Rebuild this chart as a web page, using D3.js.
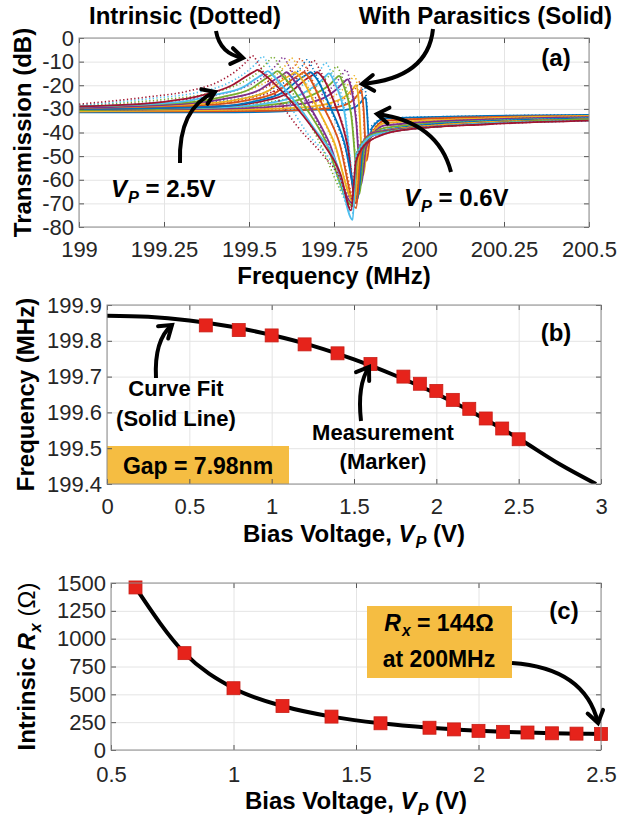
<!DOCTYPE html>
<html>
<head>
<meta charset="utf-8">
<script src="https://cdn.jsdelivr.net/npm/d3@7"></script>
<style>
  body { margin: 0; background: #fff; }
  svg { display: block; font-family: "Liberation Sans", Arial, sans-serif; }
</style>
</head>
<body>
<script>
// ---- data ----
// bias voltages used in all three panels
var biasV = [0.6, 0.8, 1.0, 1.2, 1.4, 1.6, 1.8, 1.9, 2.0, 2.1, 2.2, 2.3, 2.4, 2.5];

// (a) transmission traces with parasitics (solid), [MHz, dB], one per bias voltage
var solidTraces = [
  [[199,-31.5],[199.4,-31.5],[199.6,-31],[199.7,-30.3],[199.78,-30.5],[199.815,-29],[199.83,-27],[199.843,-25],[199.848,-33],[199.853,-44],[199.862,-38],[199.9,-34],[200.2,-33],[200.5,-32.5]],
  [[199,-31],[199.4,-31],[199.65,-30.5],[199.75,-29.5],[199.8,-27],[199.82,-24],[199.83,-22],[199.837,-30],[199.846,-52],[199.857,-42],[199.9,-35],[200.2,-33.5],[200.5,-33]],
  [[199,-31],[199.4,-30.5],[199.65,-29.5],[199.74,-27.5],[199.785,-24.5],[199.803,-22],[199.815,-20],[199.823,-27],[199.836,-58],[199.85,-44],[199.9,-36],[200.2,-34],[200.5,-33]],
  [[199,-30.5],[199.4,-30],[199.62,-28.5],[199.71,-26],[199.755,-22],[199.777,-19],[199.79,-17.5],[199.8,-21],[199.815,-35],[199.83,-62],[199.845,-46],[199.9,-37],[200.2,-34.5],[200.5,-33.5]],
  [[199,-30.5],[199.4,-29.5],[199.58,-28],[199.68,-24.5],[199.735,-20],[199.753,-17.5],[199.765,-16],[199.778,-20],[199.8,-32],[199.825,-66],[199.84,-46],[199.9,-38],[200.2,-35],[200.5,-34]],
  [[199,-30],[199.4,-29.5],[199.56,-27.5],[199.65,-24],[199.705,-19],[199.723,-16.5],[199.735,-15],[199.752,-19],[199.78,-31],[199.815,-68],[199.828,-48],[199.87,-40],[200.1,-36],[200.5,-34]],
  [[199,-30],[199.4,-29],[199.53,-27],[199.62,-23],[199.672,-17],[199.69,-15.5],[199.70,-14.5],[199.718,-17],[199.75,-27],[199.79,-46],[199.815,-70],[199.83,-48],[199.87,-41],[200.1,-37],[200.5,-34.5]],
  [[199,-30],[199.4,-29],[199.51,-27],[199.6,-23],[199.652,-17],[199.67,-15.5],[199.68,-14.5],[199.698,-17],[199.735,-28],[199.78,-44],[199.82,-68],[199.835,-47],[199.87,-40],[200.1,-36],[200.5,-34]],
  [[199,-29.5],[199.35,-28.5],[199.49,-26.5],[199.58,-23],[199.632,-17],[199.65,-15.5],[199.66,-14.5],[199.678,-17],[199.715,-28],[199.765,-44],[199.815,-72],[199.83,-48],[199.87,-40],[200.1,-36.5],[200.5,-34.5]],
  [[199,-29.5],[199.35,-28],[199.47,-26],[199.555,-22.5],[199.607,-17],[199.625,-15.5],[199.635,-14.5],[199.653,-17],[199.695,-28],[199.75,-44],[199.81,-70],[199.825,-48],[199.87,-40],[200.1,-36.5],[200.5,-34.5]],
  [[199,-29.5],[199.3,-28],[199.44,-25.5],[199.53,-22],[199.582,-17],[199.6,-15.5],[199.61,-14.5],[199.628,-17],[199.675,-28],[199.735,-44],[199.805,-70],[199.82,-48],[199.87,-40],[200.1,-37],[200.5,-34.5]],
  [[199,-29],[199.3,-27.5],[199.42,-25],[199.505,-21.5],[199.556,-16.5],[199.573,-15],[199.583,-14],[199.602,-16.5],[199.655,-27],[199.72,-42],[199.805,-71],[199.82,-48],[199.87,-40.5],[200.1,-37],[200.5,-34.5]],
  [[199,-29],[199.3,-27],[199.4,-24],[199.48,-21],[199.528,-16.5],[199.545,-15],[199.555,-14],[199.574,-16.5],[199.63,-26],[199.69,-38],[199.76,-54],[199.805,-77],[199.815,-50],[199.87,-41],[200.1,-37],[200.5,-35]],
  [[199,-29],[199.25,-27],[199.37,-24],[199.45,-20],[199.5,-15.5],[199.516,-14.2],[199.525,-13.5],[199.545,-15.5],[199.6,-23],[199.66,-33],[199.72,-45],[199.77,-58],[199.80,-73],[199.815,-52],[199.85,-44],[199.95,-39],[200.2,-36.5],[200.5,-35]]
];

// (a) intrinsic traces (dotted), [MHz, dB]
var dottedTraces = [
  [[199,-31],[199.4,-31],[199.65,-30],[199.75,-28.5],[199.8,-26.5],[199.825,-24],[199.84,-21],[199.846,-27],[199.852,-40],[199.862,-37],[199.9,-34],[200.2,-33],[200.5,-32.5]],
  [[199,-31],[199.4,-30.5],[199.65,-29.5],[199.75,-27.5],[199.8,-23.5],[199.815,-21],[199.826,-18.5],[199.834,-26],[199.845,-50],[199.855,-41],[199.9,-35],[200.2,-33.5],[200.5,-33]],
  [[199,-30.5],[199.4,-30],[199.6,-29],[199.72,-26.5],[199.77,-22.5],[199.795,-19],[199.81,-16],[199.82,-22],[199.836,-56],[199.85,-43],[199.9,-36],[200.2,-34],[200.5,-33]],
  [[199,-30.5],[199.4,-29.5],[199.6,-28],[199.7,-25],[199.75,-20],[199.772,-16],[199.785,-13.5],[199.797,-18],[199.815,-33],[199.83,-60],[199.845,-45],[199.9,-37],[200.2,-34.5],[200.5,-33.5]],
  [[199,-30],[199.4,-29],[199.56,-27],[199.66,-23.5],[199.72,-18],[199.745,-14.5],[199.757,-12],[199.772,-16],[199.8,-31],[199.825,-64],[199.84,-45],[199.9,-38],[200.2,-35],[200.5,-34]],
  [[199,-30],[199.35,-28.5],[199.52,-26],[199.62,-22.5],[199.685,-17],[199.712,-13],[199.725,-10.5],[199.742,-14.5],[199.78,-29],[199.815,-66],[199.83,-47],[199.87,-40],[200.1,-36],[200.5,-34]],
  [[199,-29.5],[199.35,-28],[199.5,-25.5],[199.59,-21.5],[199.65,-16],[199.676,-12],[199.69,-9.5],[199.708,-13.5],[199.75,-27],[199.79,-45],[199.815,-68],[199.83,-47],[199.87,-41],[200.1,-37],[200.5,-34.5]],
  [[199,-29.5],[199.3,-28],[199.48,-25.5],[199.57,-21.5],[199.63,-16],[199.656,-12],[199.67,-9.2],[199.688,-13],[199.73,-27],[199.78,-45],[199.82,-66],[199.835,-46],[199.87,-40],[200.1,-36],[200.5,-34]],
  [[199,-29],[199.3,-27.5],[199.46,-25],[199.55,-21],[199.61,-15.5],[199.636,-11.5],[199.65,-8.8],[199.668,-12.5],[199.71,-26],[199.77,-46],[199.815,-70],[199.83,-47],[199.87,-40],[200.1,-36.5],[200.5,-34.5]],
  [[199,-29],[199.3,-27],[199.44,-24.5],[199.525,-20.5],[199.585,-15],[199.611,-11],[199.625,-8.5],[199.643,-12],[199.69,-26],[199.75,-45],[199.81,-68],[199.825,-47],[199.87,-40],[200.1,-36.5],[200.5,-34.5]],
  [[199,-29],[199.28,-26.5],[199.41,-24],[199.5,-20],[199.56,-14.5],[199.586,-10.5],[199.6,-8.2],[199.618,-12],[199.665,-25.5],[199.73,-44],[199.805,-68],[199.82,-47],[199.87,-40],[200.1,-37],[200.5,-34.5]],
  [[199,-28.5],[199.25,-26],[199.38,-23.5],[199.47,-19.5],[199.53,-14],[199.556,-10],[199.57,-8],[199.588,-11.5],[199.635,-25],[199.7,-42],[199.805,-70],[199.82,-47],[199.87,-40.5],[200.1,-37],[200.5,-34.5]],
  [[199,-28.5],[199.22,-25.5],[199.35,-23],[199.44,-19],[199.5,-13.5],[199.526,-10],[199.54,-7.8],[199.558,-11.5],[199.605,-24.5],[199.67,-40],[199.74,-52],[199.805,-74],[199.815,-49],[199.87,-41],[200.1,-37],[200.5,-35]],
  [[199,-28],[199.2,-25],[199.32,-22.5],[199.41,-18.5],[199.47,-13],[199.496,-9.5],[199.51,-7.5],[199.528,-11],[199.575,-23.5],[199.64,-37],[199.72,-50],[199.77,-60],[199.80,-72],[199.815,-51],[199.85,-44],[199.95,-39],[200.2,-36.5],[200.5,-35]]
];

// (b) measured resonance frequency (markers) and curve fit (solid line)
var resFreq = [199.843, 199.83, 199.815, 199.79, 199.765, 199.735, 199.70, 199.68, 199.66, 199.635, 199.61, 199.583, 199.555, 199.525];
var fitV    = [0, 0.25, 0.5, 0.75, 1.0, 1.25, 1.5, 1.75, 2.0, 2.25, 2.5, 2.75, 2.97];
var fitFreq = [199.870, 199.867, 199.857, 199.840, 199.816, 199.786, 199.748, 199.703, 199.652, 199.593, 199.527, 199.455, 199.40];

// (c) intrinsic motional resistance
var rxOhm = [1460, 870, 555, 395, 300, 240, 200, 185, 172, 163, 157, 150, 147, 144];

// tick labels
var ticksA_x = [199, 199.25, 199.5, 199.75, 200, 200.25, 200.5];
var ticksA_y = [0, -10, -20, -30, -40, -50, -60, -70, -80];
var ticksB_x = [0, 0.5, 1, 1.5, 2, 2.5, 3];
var ticksB_y = [199.4, 199.5, 199.6, 199.7, 199.8, 199.9];
var ticksC_x = [0.5, 1, 1.5, 2, 2.5];
var ticksC_y = [0, 250, 500, 750, 1000, 1250, 1500];

// MATLAB default line colours, cycled
var lineColors = ["#0072BD", "#D95319", "#EDB120", "#7E2F8E", "#77AC30", "#4DBEEE", "#A2142F"];

var W = 618, H = 825;
var svg = d3.select("body").append("svg").attr("width", W).attr("height", H);

// one axes box, matlab style: grid, box, ticks pointing in
function makePanel(box, xDom, yDom, xt, yt, id, pad) {
  var x = d3.scaleLinear().domain(xDom).range([box.l, box.r]);
  var y = d3.scaleLinear().domain(yDom).range([box.b, box.t]);
  var w = box.r - box.l, h = box.b - box.t;

  // grid
  svg.append("g").attr("transform", "translate(0," + box.b + ")")
    .call(d3.axisBottom(x).tickValues(xt).tickSize(-h).tickFormat(""))
    .call(function(g) { g.select(".domain").remove(); g.selectAll("line").attr("stroke", "#e4e4e4"); });
  svg.append("g").attr("transform", "translate(" + box.l + ",0)")
    .call(d3.axisLeft(y).tickValues(yt).tickSize(-w).tickFormat(""))
    .call(function(g) { g.select(".domain").remove(); g.selectAll("line").attr("stroke", "#e4e4e4"); });

  svg.append("clipPath").attr("id", id)
    .append("rect").attr("x", box.l).attr("y", box.t).attr("width", w).attr("height", h);

  return {x: x, y: y, box: box, xt: xt, yt: yt, pad: pad || 13};
}

function finishPanel(p) {
  var box = p.box, x = p.x, y = p.y;
  var tk = function(g) {
    g.select(".domain").remove();
    g.selectAll("line").attr("stroke", "#555");
    g.selectAll("text").attr("font-size", 22).attr("fill", "#262626")
      .attr("font-family", "'Liberation Sans', Arial, sans-serif");
  };
  svg.append("g").attr("transform", "translate(0," + box.b + ")")
    .call(d3.axisBottom(x).tickValues(p.xt).tickSizeInner(-5).tickSizeOuter(0).tickPadding(p.pad).tickFormat(String)).call(tk);
  svg.append("g").attr("transform", "translate(0," + box.t + ")")
    .call(d3.axisTop(x).tickValues(p.xt).tickSizeInner(-5).tickSizeOuter(0).tickFormat("")).call(tk);
  svg.append("g").attr("transform", "translate(" + box.l + ",0)")
    .call(d3.axisLeft(y).tickValues(p.yt).tickSizeInner(-5).tickSizeOuter(0).tickPadding(5).tickFormat(String)).call(tk);
  svg.append("g").attr("transform", "translate(" + box.r + ",0)")
    .call(d3.axisRight(y).tickValues(p.yt).tickSizeInner(-5).tickSizeOuter(0).tickFormat("")).call(tk);
  svg.append("rect").attr("x", box.l).attr("y", box.t)
    .attr("width", box.r - box.l).attr("height", box.b - box.t)
    .attr("fill", "none").attr("stroke", "#8c8c8c").attr("stroke-width", 1);
}

// bold label, parts = [[text, opts], ...]
function label(x, y, parts, opts) {
  opts = opts || {};
  var t = svg.append("text").attr("x", x).attr("y", y)
    .attr("font-size", opts.size || 22).attr("font-weight", "bold")
    .attr("text-anchor", opts.anchor || "middle").attr("fill", "#000");
  if (opts.rotate) t.attr("transform", "rotate(-90," + x + "," + y + ")");
  parts.forEach(function(p) {
    var s = t.append("tspan").text(p[0]);
    var o = p[1] || {};
    if (o.italic) s.attr("font-style", "italic");
    if (o.normal) s.attr("font-weight", "normal");
    if (o.sub) s.attr("font-size", "0.68em").attr("dy", o.sub).attr("dx", 1);
    if (o.dy) s.attr("dy", o.dy);
  });
  return t;
}

// thick curved arrow with an open head
function arrow(x0, y0, cx, cy, x1, y1) {
  svg.append("path")
    .attr("d", "M" + x0 + "," + y0 + " Q" + cx + "," + cy + " " + x1 + "," + y1)
    .attr("fill", "none").attr("stroke", "#000").attr("stroke-width", 4);
  var a = Math.atan2(y1 - cy, x1 - cx), L = 14, s = 0.6;
  var pts = [[x1 - L * Math.cos(a - s), y1 - L * Math.sin(a - s)], [x1, y1], [x1 - L * Math.cos(a + s), y1 - L * Math.sin(a + s)]];
  svg.append("path").attr("d", d3.line()(pts))
    .attr("fill", "none").attr("stroke", "#000").attr("stroke-width", 4)
    .attr("stroke-linejoin", "miter").attr("stroke-linecap", "round");
}

// ================= (a) =================
var pa = makePanel({l: 79, r: 589, t: 38, b: 227}, [199, 200.5], [-80, 0], ticksA_x, ticksA_y, "clipA", 14);
var lineA = d3.line().x(function(d) { return pa.x(d[0]); }).y(function(d) { return pa.y(d[1]); })
  .curve(d3.curveMonotoneX);
var gA = svg.append("g").attr("clip-path", "url(#clipA)");
biasV.forEach(function(v, i) {
  var c = lineColors[i % lineColors.length];
  gA.append("path").attr("d", lineA(solidTraces[i]))
    .attr("fill", "none").attr("stroke", c).attr("stroke-width", 1.8);
  gA.append("path").attr("d", lineA(dottedTraces[i]))
    .attr("fill", "none").attr("stroke", c).attr("stroke-width", 1.6)
    .attr("stroke-dasharray", "1.3 2.4");
});
finishPanel(pa);

label(31, (38 + 227) / 2, [["Transmission (dB)"]], {size: 24, rotate: true});
label(334, 284, [["Frequency (MHz)"]], {size: 24});
label(89, 24, [["Intrinsic (Dotted)"]], {size: 24, anchor: "start"});
label(612, 24, [["With Parasitics (Solid)"]], {size: 24, anchor: "end"});
label(556, 66, [["(a)"]], {size: 24});
label(111, 197, [["V", {italic: true}], ["P", {italic: true, sub: 6}], [" = 2.5V", {dy: -6}]], {size: 24, anchor: "start"});
label(404, 206, [["V", {italic: true}], ["P", {italic: true, sub: 6}], [" = 0.6V", {dy: -6}]], {size: 24, anchor: "start"});
arrow(216, 31, 220, 54, 243, 58);
arrow(433, 29, 428, 78, 362, 84);
arrow(180, 163, 178, 108, 215, 92);
arrow(451, 172, 438, 122, 377, 114);

// ================= (b) =================
var pb = makePanel({l: 107, r: 601, t: 305, b: 484}, [0, 3], [199.4, 199.9], ticksB_x, ticksB_y, "clipB", 14);
var gB = svg.append("g").attr("clip-path", "url(#clipB)");
gB.append("path")
  .attr("d", d3.line().x(function(d, i) { return pb.x(fitV[i]); }).y(function(d) { return pb.y(d); })
    .curve(d3.curveMonotoneX)(fitFreq))
  .attr("fill", "none").attr("stroke", "#000").attr("stroke-width", 4);
gB.selectAll("rect.mk").data(resFreq).enter().append("rect")
  .attr("x", function(d, i) { return pb.x(biasV[i]) - 6.5; })
  .attr("y", function(d) { return pb.y(d) - 6.5; })
  .attr("width", 13).attr("height", 13)
  .attr("fill", "#e6231b").attr("stroke", "#c81f17").attr("stroke-width", 0.8);
svg.append("rect").attr("x", 107).attr("y", 446).attr("width", 182).attr("height", 38).attr("fill", "#f5bd42");
finishPanel(pb);

label(34, (305 + 484) / 2, [["Frequency (MHz)"]], {size: 24, rotate: true});
label(354, 542, [["Bias Voltage, "], ["V", {italic: true}], ["P", {italic: true, sub: 6}], [" (V)", {dy: -6}]], {size: 24});
label(556, 341, [["(b)"]], {size: 24});
label(176, 396, [["Curve Fit"]]);
label(176, 426, [["(Solid Line)"]]);
label(383, 440, [["Measurement"]]);
label(383, 469, [["(Marker)"]]);
label(198, 474, [["Gap = 7.98nm"]], {size: 23});
arrow(156, 378, 154, 340, 172, 325);
arrow(361, 421, 357, 385, 369, 367);

// ================= (c) =================
var pc = makePanel({l: 111, r: 601, t: 583, b: 750}, [0.5, 2.5], [0, 1500], ticksC_x, ticksC_y, "clipC", 16);
var gC = svg.append("g").attr("clip-path", "url(#clipC)");
gC.append("path")
  .attr("d", d3.line().x(function(d, i) { return pc.x(biasV[i]); }).y(function(d) { return pc.y(d); })
    .curve(d3.curveMonotoneX)(rxOhm))
  .attr("fill", "none").attr("stroke", "#000").attr("stroke-width", 4);
svg.selectAll("rect.mkc").data(rxOhm).enter().append("rect")
  .attr("x", function(d, i) { return pc.x(biasV[i]) - 6.5; })
  .attr("y", function(d) { return pc.y(d) - 6.5; })
  .attr("width", 13).attr("height", 13)
  .attr("fill", "#e6231b").attr("stroke", "#c81f17").attr("stroke-width", 0.8);
svg.append("rect").attr("x", 367).attr("y", 606).attr("width", 145).attr("height", 72).attr("fill", "#f5bd42");
finishPanel(pc);

label(35, (583 + 750) / 2, [["Intrinsic "], ["R", {italic: true}], ["x", {italic: true, sub: 6}], [" (\u03A9)", {dy: -6, normal: true}]], {size: 24, rotate: true});
label(356, 809, [["Bias Voltage, "], ["V", {italic: true}], ["P", {italic: true, sub: 6}], [" (V)", {dy: -6}]], {size: 24});
label(564, 619, [["(c)"]], {size: 24});
label(439, 631, [["R", {italic: true}], ["x", {italic: true, sub: 5}], [" = 144\u03A9", {dy: -5}]], {size: 23});
label(439, 667, [["at 200MHz"]], {size: 23});
arrow(512, 663, 585, 668, 598, 723);
</script>
</body>
</html>
